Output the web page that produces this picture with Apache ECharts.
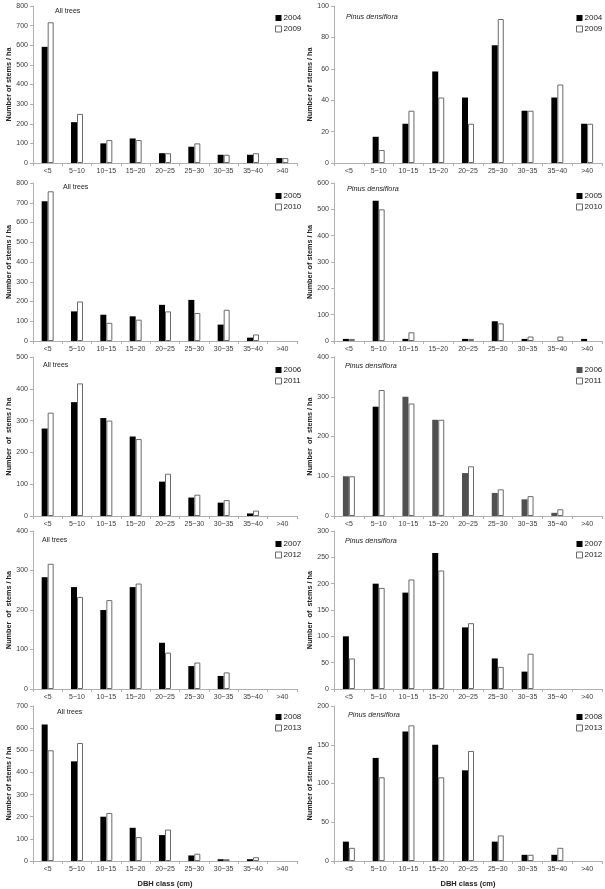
<!DOCTYPE html>
<html>
<head>
<meta charset="utf-8">
<script src="https://cdn.jsdelivr.net/npm/echarts@6/dist/echarts.min.js"></script>
<style>
html,body{margin:0;padding:0;background:#fff;}
#c{width:605px;height:889px;}
</style>
</head>
<body>
<div id="c"></div>
<script>
const categories = ['<5','5~10','10~15','15~20','20~25','25~30','30~35','35~40','>40'];

// Row 1
const all2004 = [592, 208, 100, 125, 50, 83, 42, 42, 25];
const all2009 = [717, 250, 117, 117, 50, 100, 42, 50, 25];
const pin2004 = [0, 16.7, 25, 58.3, 41.7, 75, 33.3, 41.7, 25];
const pin2009 = [0, 8.3, 33.3, 41.7, 25, 91.7, 33.3, 50, 25];
// Row 2
const all2005 = [708, 150, 133, 125, 183, 208, 83, 17, 0];
const all2010 = [758, 200, 92, 108, 150, 142, 158, 33, 0];
const pin2005 = [8, 533, 8, 0, 8, 75, 8, 0, 8];
const pin2010 = [8, 500, 33, 0, 8, 67, 17, 17, 0];
// Row 3
const all2006 = [275, 358, 308, 250, 108, 58, 42, 8, 0];
const all2011 = [325, 417, 300, 242, 133, 67, 50, 17, 0];
const pin2006 = [100, 275, 300, 242, 108, 58, 42, 8, 0];
const pin2011 = [100, 317, 283, 242, 125, 67, 50, 17, 0];
// Row 4
const all2007 = [283, 258, 200, 258, 117, 58, 33, 0, 0];
const all2012 = [317, 233, 225, 267, 92, 67, 42, 0, 0];
const pin2007 = [100, 200, 183, 258, 117, 58, 33, 0, 0];
const pin2012 = [58, 192, 208, 225, 125, 42, 67, 0, 0];
// Row 5
const all2008 = [617, 450, 200, 150, 117, 25, 8, 8, 0];
const all2013 = [500, 533, 217, 108, 142, 33, 8, 17, 0];
const pin2008 = [25, 133, 167, 150, 117, 25, 8, 8, 0];
const pin2013 = [17, 108, 175, 108, 142, 33, 8, 17, 0];

const yMaxLeft = [800, 800, 500, 400, 700];
const yMaxRight = [100, 600, 400, 300, 200];
const yIntLeft = [100, 100, 100, 100, 100];
const yIntRight = [20, 100, 100, 50, 50];
const yearsA = ['2004','2005','2006','2007','2008'];
const yearsB = ['2009','2010','2011','2012','2013'];
const leftA = [all2004, all2005, all2006, all2007, all2008];
const leftB = [all2009, all2010, all2011, all2012, all2013];
const rightA = [pin2004, pin2005, pin2006, pin2007, pin2008];
const rightB = [pin2009, pin2010, pin2011, pin2012, pin2013];

const rowTops = [6, 183, 357, 531, 706];
const rowBottoms = [163, 341, 516, 689, 863];
const yNames = ['Number of stems / ha','Number of stems / ha','Number  of  stems / ha','Number  of  stems / ha','Number of stems / ha'];

const textColor = '#3a3a3a';
const font = 'Liberation Sans, Arial, sans-serif';

const grids = [], xAxes = [], yAxes = [], series = [], legends = [], titles = [];

const leftTitlePos = [[55, 8], [63, 184], [43, 362], [42, 537], [57, 709]];
const rightTitlePos = [[346, 13], [347, 185], [345, 362], [345, 537], [348, 711]];
const legendTopsL = [9, 187, 361, 535, 708];
const legendTopsR = [9, 187, 361, 535, 708];

const hideZero = v => (v === 0 ? '-' : v);

function addPanel(row, side) {
  const idx = grids.length;
  const isLeft = side === 'L';
  grids.push({
    left: isLeft ? 33 : 334,
    width: isLeft ? 264 : 268,
    top: rowTops[row],
    height: rowBottoms[row] - rowTops[row]
  });
  xAxes.push({
    type: 'category',
    gridIndex: idx,
    data: categories,
    axisLine: { lineStyle: { color: '#b0b0b0', width: 1 } },
    axisTick: { show: true, length: 3, lineStyle: { color: '#b0b0b0' } },
    axisLabel: { interval: 0, fontSize: 7, color: textColor, margin: 5, fontFamily: font },
    name: row === 4 ? 'DBH class (cm)' : '',
    nameLocation: 'middle',
    nameGap: 19,
    nameTextStyle: { fontSize: 7.5, fontWeight: 'bold', color: '#222', fontFamily: font }
  });
  yAxes.push({
    type: 'value',
    gridIndex: idx,
    min: 0,
    max: isLeft ? yMaxLeft[row] : yMaxRight[row],
    interval: isLeft ? yIntLeft[row] : yIntRight[row],
    splitLine: { show: false },
    axisLine: { show: true, lineStyle: { color: '#b0b0b0', width: 1 } },
    axisTick: { show: true, length: 3, lineStyle: { color: '#b0b0b0' } },
    axisLabel: { fontSize: 7, color: textColor, margin: 5, fontFamily: font },
    name: yNames[row],
    nameLocation: 'middle',
    nameRotate: 90,
    nameGap: 21,
    nameTextStyle: { fontSize: 7.3, fontWeight: 'bold', color: '#222', fontFamily: font }
  });
  const dA = isLeft ? leftA[row] : rightA[row];
  const dB = isLeft ? leftB[row] : rightB[row];
  let dataA = dA.map(hideZero);
  let colorA = '#000';
  if (!isLeft && row === 2) {
    colorA = '#505050';
    dataA = dA.map((v, i) => i === 1 ? { value: v, itemStyle: { color: '#000' } } : hideZero(v));
  }
  series.push({
    type: 'bar', name: yearsA[row], xAxisIndex: idx, yAxisIndex: idx,
    data: dataA, barWidth: 6, barGap: '0%',
    itemStyle: { color: colorA }
  });
  series.push({
    type: 'bar', name: yearsB[row], xAxisIndex: idx, yAxisIndex: idx,
    data: dB.map(hideZero), barWidth: 6, barGap: '0%',
    itemStyle: { color: '#fff', borderColor: '#6a6a6a', borderWidth: 1 }
  });
  legends.push({
    orient: 'vertical',
    left: isLeft ? 270 : 571,
    top: isLeft ? legendTopsL[row] : legendTopsR[row],
    icon: 'rect',
    itemWidth: 6,
    itemHeight: 6,
    itemGap: 3,
    selectedMode: false,
    textStyle: { fontSize: 8, color: '#222', padding: [0, 0, 0, -3], lineHeight: 7, fontFamily: font },
    data: [
      { name: yearsA[row], itemStyle: { color: colorA } },
      { name: yearsB[row], itemStyle: { color: '#fff', borderColor: '#6a6a6a', borderWidth: 1 } }
    ]
  });
  const pos = isLeft ? leftTitlePos[row] : rightTitlePos[row];
  titles.push({
    text: isLeft ? 'All trees' : 'Pinus densiflora',
    left: pos[0], top: pos[1], padding: 0,
    textStyle: { fontSize: isLeft ? 7 : 7.3, fontWeight: 'normal', fontStyle: isLeft ? 'normal' : 'italic', color: '#222', fontFamily: font }
  });
}

for (let r = 0; r < 5; r++) { addPanel(r, 'L'); addPanel(r, 'R'); }

const chart = echarts.init(document.getElementById('c'), null, { renderer: 'canvas' });
chart.setOption({
  animation: false,
  backgroundColor: '#fff',
  title: titles,
  legend: legends,
  grid: grids,
  xAxis: xAxes,
  yAxis: yAxes,
  series: series
});
</script>
</body>
</html>
